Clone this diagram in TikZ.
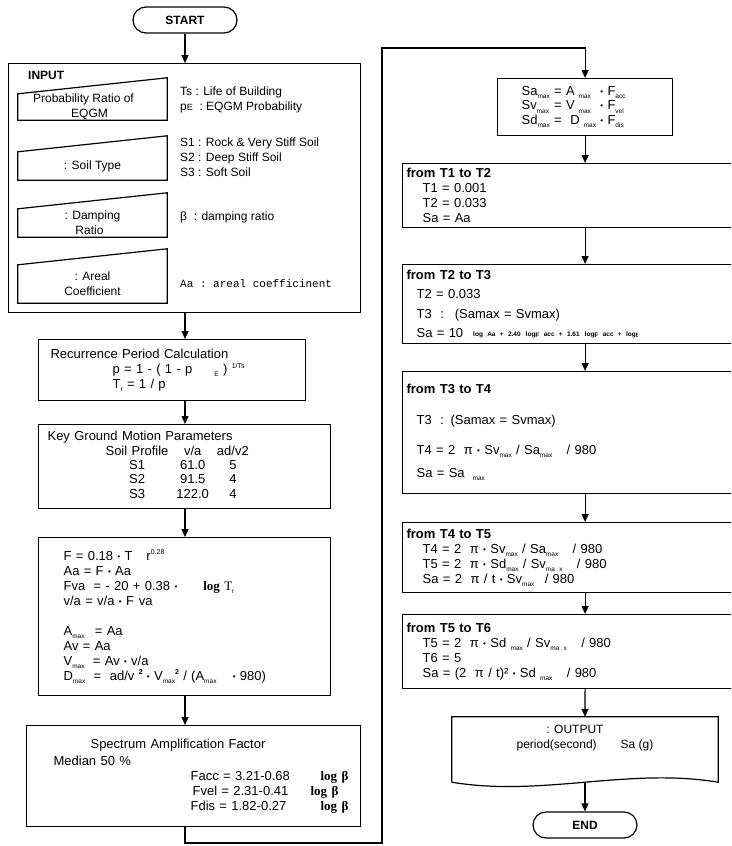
\documentclass[tikz,border=0pt]{standalone}
\usepackage{fontspec}
\setmainfont{Liberation Sans}
\setmonofont{Liberation Mono}
\newfontfamily\logfont{Liberation Serif}
\usetikzlibrary{arrows.meta}
\newcommand\boxfont{\fontsize{13}{15}\selectfont}
\newcommand\inpfont{\fontsize{12}{15}\selectfont}
\newcommand\smlo[1]{\raisebox{-0.45ex}{\fontsize{6.5}{6.5}\selectfont #1}}
\newcommand\smhi[1]{\raisebox{0.75ex}{\fontsize{7}{7}\selectfont #1}}
\newcommand\timesdot{\raisebox{0.15ex}{\fontsize{8}{8}\selectfont •}}
\renewcommand\arraystretch{0.95}
\tikzset{
  term/.style     = {draw, line width=1.2pt, rounded corners=13pt, minimum width=104pt,
                     minimum height=26pt, font=\inpfont\bfseries},
  stepbox/.style  = {draw, line width=1.2pt, anchor=north west, align=left,
                     font=\boxfont, inner ysep=2pt},
  % manual input shapes: node covers the lower part, slanted top drawn separately
  manin/.style    = {minimum width=149pt, inner sep=0pt, align=center, font=\inpfont},
  lbl/.style      = {anchor=west, align=left, inner sep=0pt, font=\inpfont},
  flowline/.style = {line width=1.2pt},
  arr/.style      = {flowline, -{Triangle[length=8pt,width=7pt]}},
}

\begin{document}
\begin{tikzpicture}[x=1pt, y=-1pt]
  \useasboundingbox (0,0) rectangle (731,846);
  \clip (0,0) rectangle (731,846);

  % left column
  \node[term] (start) at (185,20) {START};

  \node[stepbox, minimum width=352pt, minimum height=249pt] (input) at (8,63) {};
  \node[lbl, font=\inpfont\bfseries] (inplbl) at (28,75) {INPUT};

  \node[manin, minimum height=26pt] (prob)  at (92.5,107) {Probability Ratio of\hspace*{18pt}\\EQGM\hspace*{6pt}};
  \node[manin, minimum height=28pt] (soil)  at (92.5,166) {: Soil Type};
  \node[manin, minimum height=28pt] (damp)  at (92.5,223) {: Damping\\Ratio\hspace*{6pt}};
  \node[manin, minimum height=38pt] (areal) at (92.5,284) {: Areal\\Coefficient};
  \draw[flowline] (prob.north west) -- (prob.south west) -- (prob.south east) -- ([yshift=16pt]prob.north east) -- cycle;
  \draw[flowline] (soil.north west) -- (soil.south west) -- (soil.south east) -- ([yshift=16pt]soil.north east) -- cycle;
  \draw[flowline] (damp.north west) -- (damp.south west) -- (damp.south east) -- ([yshift=16pt]damp.north east) -- cycle;
  \draw[flowline] (areal.north west) -- (areal.south west) -- (areal.south east) -- ([yshift=16pt]areal.north east) -- cycle;

  \node[lbl] (tslbl)   at (180,100) {Ts : Life of Building\\p{\fontsize{9}{9}\selectfont E} \ : EQGM Probability};
  \node[lbl] (soillbl) at (180,157) {S1 : Rock \& Very Stiff Soil\\S2 : Deep Stiff Soil\\S3 : Soft Soil};
  \node[lbl] (betalbl) at (180,217) {β \ : damping ratio};
  \node[lbl, font=\ttfamily\fontsize{11}{13}\selectfont] (aalbl) at (180,284) {Aa : areal coefficinent};

  \node[stepbox, minimum width=267pt, minimum height=61pt, text width=243pt, inner xsep=12pt] (recur) at (38,339)
    {Recurrence Period Calculation\\
     \hspace*{62pt}p = 1 - ( 1 - p\hspace{22pt}\smlo{E} ) \smhi{1/Ts}\\
     \hspace*{62pt}T\smlo{r} = 1 / p};

  \node[stepbox, minimum width=292pt, minimum height=84pt, text width=274pt, inner xsep=9pt] (keyp) at (38,424)
    {Key Ground Motion Parameters\\
     \hspace*{58pt}\begin{tabular}[t]{@{}c@{\hspace{8pt}}c@{\hspace{8pt}}c@{}}
       Soil Profile & v/a & ad/v2\\
       S1 & 61.0 & 5\\
       S2 & 91.5 & 4\\
       S3 & 122.0 & 4
     \end{tabular}};

  \node[stepbox, minimum width=292pt, minimum height=158pt, text width=242pt, inner xsep=25pt] (form) at (38,537)
    {F = 0.18 \timesdot\ T\hspace{14pt}r\smhi{0.28}\\
     Aa = F \timesdot\ Aa\\
     Fva\hspace{4pt} = - 20 + 0.38 \timesdot\hspace{26pt}{\logfont\bfseries log} {\logfont T}\smlo{r}\\
     v/a = v/a \timesdot\ F\hspace{5pt}va\\[15pt]
     A\smlo{max}\hspace{6pt} = Aa\\
     Av = Aa\\
     V\smlo{max}\hspace{4pt} = Av \timesdot\ v/a\\
     D\smlo{max}\hspace{4pt} = \ ad/v \smhi{\bfseries 2} \timesdot\ V\smlo{max}\smhi{\bfseries 2} / (A\smlo{max}\hspace{12pt} \timesdot\ 980)};

  \node[stepbox, minimum width=334pt, minimum height=101pt, text width=280pt, inner xsep=27pt] (spec) at (26,725)
    {\hspace*{37pt}Spectrum Amplification Factor\\[2pt]
     Median 50 \%\\
     \hspace*{137pt}\makebox[130pt][l]{Facc = 3.21-0.68}\makebox[0pt][l]{\logfont\bfseries log β}\\
     \hspace*{139pt}\makebox[118pt][l]{Fvel = 2.31-0.41}\makebox[0pt][l]{\logfont\bfseries log β}\\
     \hspace*{137pt}\makebox[130pt][l]{Fdis = 1.82-0.27}\makebox[0pt][l]{\logfont\bfseries log β}};

  % right column
  \node[stepbox, minimum width=175pt, minimum height=57pt, text width=127pt, inner xsep=24pt] (sabox) at (497,78)
    {\begin{tabular}{@{}l@{ }l@{ }l@{}}
       Sa\smlo{max} & = A\hspace{4pt}\smlo{max} & \timesdot\ F\smlo{acc}\\
       Sv\smlo{max} & = V\hspace{4pt}\smlo{max} & \timesdot\ F\smlo{vel}\\
       Sd\smlo{max} & = \ D\hspace{4pt}\smlo{max} & \timesdot\ F\smlo{dis}
     \end{tabular}};

  \node[stepbox, minimum width=338pt, minimum height=64pt, text width=330pt, inner xsep=4pt] (t12) at (402,163)
    {{\bfseries from T1 to T2}\\
     \hspace*{16pt}T1 = 0.001\\
     \hspace*{16pt}T2 = 0.033\\
     \hspace*{16pt}Sa = Aa};

  \node[stepbox, minimum width=338pt, minimum height=79pt, text width=330pt, inner xsep=4pt] (t23) at (402,264)
    {{\bfseries from T2 to T3}\\[4pt]
     \hspace*{10pt}T2 = 0.033\\[5pt]
     \hspace*{10pt}T3 \ : \ (Samax = Svmax)\\[4pt]
     \hspace*{10pt}Sa = 10\hspace{10pt}\raisebox{1.5pt}{\fontsize{6.5}{7}\selectfont\bfseries log Aa + 2.40\hspace{5pt}log\smlo{F} acc + 1.61\hspace{5pt}log\smlo{F} acc + log\smlo{t}}};

  \node[stepbox, minimum width=338pt, minimum height=122pt, text width=330pt, inner xsep=4pt] (t34) at (402,371)
    {{\bfseries from T3 to T4}\\[16pt]
     \hspace*{10pt}T3 \ : (Samax = Svmax)\\[15pt]
     \hspace*{10pt}T4 = 2\ \ π \timesdot\ Sv\smlo{max} / Sa\smlo{max}\hspace{10pt} / 980\\[8pt]
     \hspace*{10pt}Sa = Sa\hspace{8pt}\smlo{max}};

  \node[stepbox, minimum width=338pt, minimum height=70pt, text width=330pt, inner xsep=4pt] (t45) at (402,522)
    {{\bfseries from T4 to T5}\\
     \hspace*{16pt}T4 = 2\ \ π \timesdot\ Sv\smlo{max} / Sa\smlo{max}\hspace{10pt} / 980\\
     \hspace*{16pt}T5 = 2\ \ π \timesdot\ Sd\smlo{max} / Sv\smlo{ma x}\hspace{10pt} / 980\\
     \hspace*{16pt}Sa = 2\ \ π / t \timesdot\ Sv\smlo{max}\hspace{6pt} / 980};

  \node[stepbox, minimum width=338pt, minimum height=74pt, text width=330pt, inner xsep=4pt] (t56) at (402,614)
    {{\bfseries from T5 to T6}\\
     \hspace*{16pt}T5 = 2\ \ π \timesdot\ Sd \smlo{max} / Sv\smlo{ma x}\hspace{10pt} / 980\\
     \hspace*{16pt}T6 = 5\\
     \hspace*{16pt}Sa = (2\ \ π / t)² \timesdot\ Sd \smlo{max}\hspace{10pt} / 980};

  % output document shape, wavy bottom drawn below the node
  \node[minimum width=266pt, minimum height=43pt, inner sep=0pt, align=center, font=\inpfont] (outp) at (585,738.5)
    {: OUTPUT\hspace*{20pt}\\period(second)\hspace{24pt}Sa (g)};
  \draw[flowline] ([yshift=-22pt]outp.south west) -- (outp.north west) -- (outp.north east) -- ([yshift=-22pt]outp.south east)
    .. controls +(-90,-15) and +(90,15) .. ([yshift=-22pt]outp.south west);
  \coordinate (outbot) at ([yshift=-22pt]outp.south);

  \node[term] (endn) at (585,825) {END};

  % connectors
  \draw[arr] (start.south) -- (start.south |- input.north);
  \draw[arr] (input.south -| start) -- (recur.north -| start);
  \draw[arr] (recur.south -| start) -- (keyp.north -| start);
  \draw[arr] (keyp.south -| start) -- (form.north -| start);
  \draw[arr] (form.south -| start) -- (spec.north -| start);

  \coordinate (loopbot) at (382,843);
  \coordinate (looptop) at (382,48);
  \draw[arr] (spec.south -| start) |- (loopbot) -- (looptop) -| (sabox.north);

  \draw[arr] (sabox.south) -- (sabox.south |- t12.north);
  \draw[arr] (t12.south -| sabox) -- (t23.north -| sabox);
  \draw[arr] (t23.south -| sabox) -- (t34.north -| sabox);
  \draw[arr] (t34.south -| sabox) -- (t45.north -| sabox);
  \draw[arr] (t45.south -| sabox) -- (t56.north -| sabox);
  \draw[arr] (t56.south -| sabox) -- (outp.north);
  \draw[arr] (outbot) -- (endn.north);
\end{tikzpicture}
\end{document}
